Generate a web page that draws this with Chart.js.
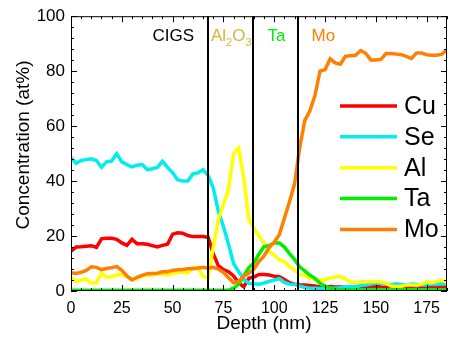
<!DOCTYPE html>
<html><head><meta charset="utf-8">
<script src="https://cdn.jsdelivr.net/npm/chart.js@4.4.1/dist/chart.umd.min.js"></script>
<style>html,body{margin:0;padding:0;background:#fff}#wrap{width:456px;height:339px}</style>
</head><body><div id="wrap"><canvas id="c" width="456" height="339"></canvas></div>
<script>
const depth = [0,2.5,5,7.5,10,12.5,15,17.5,20,22.5,25,27.5,30,32.5,35,37.5,40,42.5,45,47.5,50,52.5,55,57.5,60,62.5,65,67.5,70,72.5,75,77.5,80,82.5,85,87.5,90,92.5,95,97.5,100,102.5,105,107.5,110,112.5,115,117.5,120,122.5,125,127.5,130,132.5,135,137.5,140,142.5,145,147.5,150,152.5,155,157.5,160,162.5,165,167.5,170,172.5,175,177.5,180,182.5,185];
const cu = [14.5,16,16.1,16.3,16.5,15.9,19,19.2,19.2,18.8,17.5,16.6,18.8,17.2,17.2,17,16.5,16,16.6,17,20.7,21.2,21,20.2,19.8,19.8,19.8,19.5,13.5,9.2,7.8,7,5.5,3,1.5,4.6,5.1,6,6,5.8,5.4,5.2,4.2,3,2.5,2.3,2.2,2,1.8,1.5,1.4,1.6,1.5,1.5,1.3,1.4,1.6,1.5,1.4,1.5,1.7,1.5,1.4,1.3,1.5,1.6,1.5,1.4,1.5,1.7,1.6,1.5,1.6,1.5,1.4];
const se = [48.5,46.5,47.5,47.8,48.1,47.5,45,47,47.3,50,47,46,45.2,45.8,46,44.2,44.5,45,47.2,45,43,40.5,40,40,42.6,43,44.1,42,37.5,29,23.5,17,10,7,4.3,2.8,2.6,2.5,2.9,3.5,4,4.5,3.1,2.5,2.4,1.8,1.3,1,1,0.9,1,1.1,1,1.2,1.4,1.6,1.5,2,2.2,2.5,2.8,2.9,2.6,2.2,2.6,2.4,2.2,2.5,2.4,2.3,2.2,2.5,2.4,2.6,2.8];
const al = [5,3.4,4,4.3,2.8,3,6.5,5,5.2,5.8,6,5.2,4.5,4.5,5.5,5.8,5.8,6.2,6.2,5.8,6.4,6.8,6.8,6.6,8.6,8.5,5.2,5,16,26,31.5,37,50,52,41,26,22.8,20,17.5,14.3,13.1,11.3,10.7,8.9,7.7,6,5.7,4.6,4.2,4,4.1,4.7,5.2,5.3,4.4,3.3,2.9,3.4,3.4,3.4,3.5,3.3,2.9,1.8,1.6,1.7,2.2,2.2,2,2.5,3.3,3,3.4,3.8,3.2];
const ta = [0.3,0.3,0.3,0.3,0.3,0.3,0.3,0.3,0.3,0.3,0.3,0.3,0.3,0.3,0.3,0.3,0.3,0.3,0.3,0.3,0.3,0.3,0.3,0.3,0.3,0.3,0.3,0.3,0.3,0.3,0.3,0.3,1,2.5,5.5,8.5,10.2,13.5,16.2,16.5,17.5,17.5,16,13.6,11.5,8.8,7.3,5.8,4.6,2.8,1.8,1,0.6,0.5,0.5,0.5,0.5,0.5,0.5,0.5,0.5,0.5,0.5,0.5,0.5,0.5,0.5,0.5,0.5,0.5,0.5,0.5,0.5,0.5,0.5];
const mo = [6.6,6.4,6.8,7.5,8.8,8.6,7.8,8.2,8.5,8.9,7.5,5.5,4,5,5.7,6.3,6.4,6.5,7,7,7.5,7.7,7.8,8.1,8.1,8.4,8.6,8.3,8.6,8,6.8,4.8,3,3.5,5.4,6.5,8,10.8,12.8,15.8,17.8,20.5,26.5,32.5,39,52,62,65.5,71,80,80.5,84.5,83,82.5,85.4,85.6,85.8,87.5,86.5,84.1,84.1,84.3,86.4,86.4,86.2,86,85.4,84.6,86.6,86.6,86,85.8,85.8,86.2,87.8];

const seriesNames = ['Cu','Se','Al','Ta','Mo'];
const seriesValues = [cu, se, al, ta, mo];
const seriesColors = ['#ff0000','#00eeee','#ffff00','#00ee00','#ff8000'];
const xTicks = [0,25,50,75,100,125,150,175];
const yTicks = [0,20,40,60,80,100];
const boundaries = [67.4, 89.6, 111.7];
const regionLabels = ['CIGS','Al2O3','Ta','Mo'];
const regionColors = ['#000000','#dcb23c','#00ee00','#ff8000'];

const FONT = "'Liberation Sans', Arial, sans-serif";

const deco = {
  id: 'deco',
  afterDatasetsDraw(chart) {
    const {ctx, chartArea: a, scales: {x, y}} = chart;
    ctx.save();
    ctx.strokeStyle = '#000';
    ctx.lineWidth = 2;
    boundaries.forEach(b => {
      const px = Math.round(x.getPixelForValue(b));
      ctx.beginPath(); ctx.moveTo(px, a.top); ctx.lineTo(px, a.bottom); ctx.stroke();
    });
    ctx.lineWidth = 1;
    ctx.strokeRect(a.left + 0.5, a.top + 0.5, a.right - a.left - 1, a.bottom - a.top - 1);
    ctx.beginPath();
    for (let v = 0; v <= 185; v += 5) {
      const px = Math.round(x.getPixelForValue(v)) + 0.5;
      const len = xTicks.includes(v) ? 6 : 3;
      ctx.moveTo(px, a.bottom); ctx.lineTo(px, a.bottom - len);
      ctx.moveTo(px, a.top); ctx.lineTo(px, a.top + len);
    }
    for (let v = 0; v <= 100; v += 4) {
      const py = Math.round(y.getPixelForValue(v)) + 0.5;
      const len = yTicks.includes(v) ? 6 : 3;
      ctx.moveTo(a.left, py); ctx.lineTo(a.left + len, py);
      ctx.moveTo(a.right, py); ctx.lineTo(a.right - len, py);
    }
    ctx.stroke();

    const base = a.top + 24.5;
    ctx.textBaseline = 'alphabetic';
    ctx.font = '17px ' + FONT;
    const b0 = x.getPixelForValue(boundaries[0]);
    const b1 = x.getPixelForValue(boundaries[1]);
    const b2 = x.getPixelForValue(boundaries[2]);
    ctx.fillStyle = regionColors[0]; ctx.textAlign = 'right';
    ctx.fillText(regionLabels[0], b0 - 14, base);
    ctx.textAlign = 'left'; ctx.fillStyle = regionColors[1];
    let cx = b0 + 3;
    const parts = [['Al',17,0],['2',11,5.5],['O',17,0],['3',11,5.5]];
    parts.forEach(([t, s, dy]) => {
      ctx.font = s + 'px ' + FONT;
      ctx.fillText(t, cx, base + dy);
      cx += ctx.measureText(t).width;
    });
    ctx.font = '17px ' + FONT;
    ctx.fillStyle = regionColors[2]; ctx.textAlign = 'center';
    ctx.fillText(regionLabels[2], (b1 + b2) / 2 + 1, base);
    ctx.fillStyle = regionColors[3]; ctx.textAlign = 'left';
    ctx.fillText(regionLabels[3], b2 + 13.5, base);

    ctx.font = '25px ' + FONT;
    ctx.textBaseline = 'middle';
    seriesNames.forEach((n, i) => {
      const ly = a.top + 89.7 + i * 30.9;
      ctx.strokeStyle = seriesColors[i];
      ctx.lineWidth = 3.5;
      ctx.beginPath(); ctx.moveTo(a.right - 107, ly); ctx.lineTo(a.right - 50, ly); ctx.stroke();
      ctx.fillStyle = '#000'; ctx.textAlign = 'left';
      ctx.fillText(n, a.right - 43, ly + 1);
    });

    ctx.fillStyle = '#000';
    ctx.font = '19px ' + FONT;
    ctx.textAlign = 'center'; ctx.textBaseline = 'middle';
    ctx.fillText('Depth (nm)', 264, 324);
    ctx.save();
    ctx.translate(24, 145);
    ctx.rotate(-Math.PI / 2);
    ctx.fillText('Concentration (at%)', 0, 0);
    ctx.restore();
    ctx.restore();
  }
};

new Chart(document.getElementById('c'), {
  type: 'line',
  data: {
    labels: depth,
    datasets: seriesNames.map((n, i) => ({
      label: n,
      data: depth.map((d, k) => ({x: d, y: seriesValues[i][k]})),
      borderColor: seriesColors[i],
      backgroundColor: seriesColors[i],
      borderWidth: 3.5,
      pointRadius: 0,
      tension: 0,
      fill: false,
      order: 5 - i
    }))
  },
  options: {
    responsive: false,
    animation: false,
    devicePixelRatio: 1,
    layout: {padding: {top: 13, right: 9, bottom: 0, left: 0}},
    plugins: {legend: {display: false}, tooltip: {enabled: false}},
    scales: {
      x: {
        type: 'linear', min: 0, max: 185,
        afterBuildTicks: s => { s.ticks = xTicks.map(v => ({value: v})); },
        afterFit: s => { s.height = 48; },
        grid: {display: false, drawTicks: false},
        border: {display: false},
        ticks: {color: '#000', font: {family: FONT, size: 16}, padding: 8, maxRotation: 0, autoSkip: false}
      },
      y: {
        type: 'linear', min: 0, max: 100,
        afterBuildTicks: s => { s.ticks = yTicks.map(v => ({value: v})); },
        afterFit: s => { s.width = 71; },
        grid: {display: false, drawTicks: false},
        border: {display: false},
        ticks: {color: '#000', font: {family: FONT, size: 17}, padding: 6}
      }
    }
  },
  plugins: [deco]
});
</script>
</body></html>
